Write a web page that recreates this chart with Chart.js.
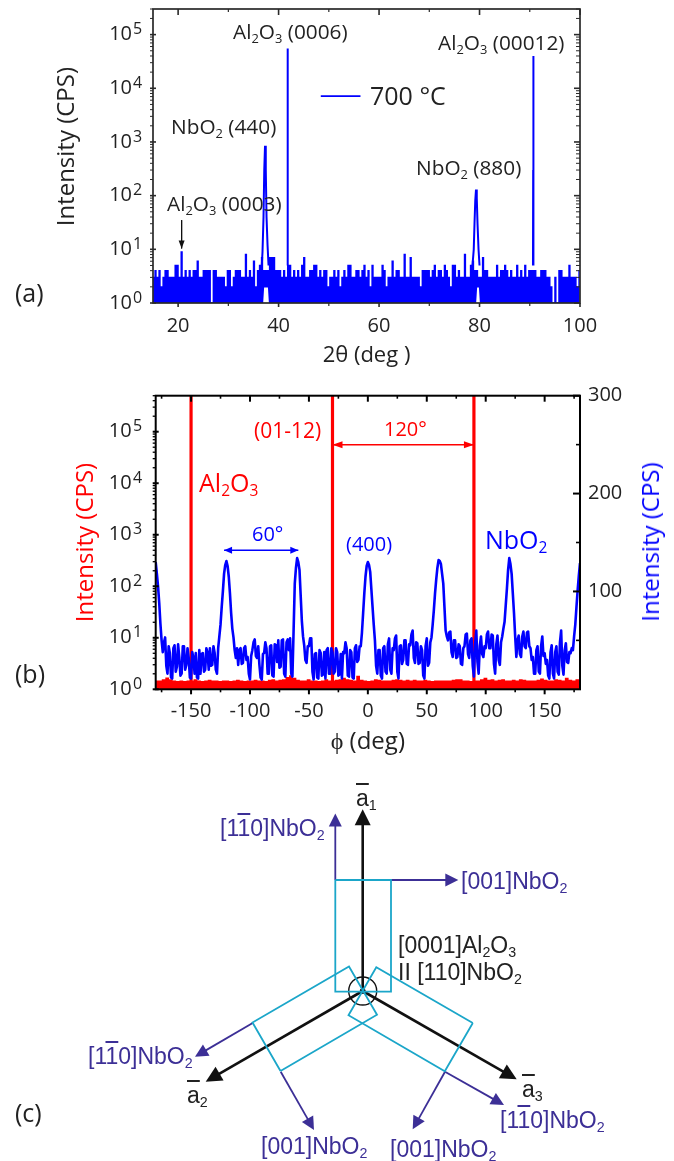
<!DOCTYPE html>
<html><head><meta charset="utf-8">
<script src="https://cdn.jsdelivr.net/npm/chart.js@4/dist/chart.umd.min.js"></script>
<style>
html,body{margin:0;padding:0;background:#fff}
#page{position:relative;width:674px;height:1161px;overflow:hidden}
canvas{position:absolute;left:0}
.t{position:absolute;white-space:nowrap;line-height:0}
.t sub{font-size:.62em;vertical-align:-.28em;line-height:0}
.o{text-decoration:overline}
</style></head><body><div id="page">
<canvas id="ca" width="674" height="370" style="top:0"></canvas>
<canvas id="cb" width="674" height="380" style="top:380px"></canvas>
<canvas id="cc" width="674" height="391" style="top:770px"></canvas>
</div>
<script>
/* ---------- panel (a) : 2-theta scan, counts read every 0.4 deg from 15 deg ---------- */
const xrdCounts = [
 3,4,3,4,2,3,4,4,3,3,3,5,5,3,9,3,4,3,4,3,4,4,6,3,3,4,4,4,4,1,4,4,3,3,3,3,2,4,4,2,3,4,4,4,3,3,8,3,4,3,6,2,4,5,7,4,4,4,7,7,7,4,4,4,3,4,3,5,5,3,4,3,
 4,3,5,7,3,3,4,4,5,5,3,4,3,4,4,2,3,3,4,3,4,2,3,4,3,5,5,3,3,4,4,3,4,5,3,4,2,5,3,3,3,3,5,4,2,3,3,6,3,4,4,3,3,8,3,3,7,3,3,3,3,2,4,4,4,4,3,4,5,3,4,4,3,
 5,4,3,2,5,5,3,4,3,3,8,3,3,5,6,4,4,3,3,7,4,4,3,3,3,3,5,3,4,4,5,4,3,4,3,3,5,3,4,3,5,3,4,4,4,4,3,3,4,4,4,3,3,2,1,3,1,4,4,3,3,3,5,3,3,3,2,4,4,4
];
const xrdRaisedFloor = [55,56,57,161,162];
const peak440Angle = [36.6,36.8,37.0,37.15,37.3,37.45,37.6,37.8,38.0];
const peak440Count = [4,9,40,300,850,300,40,12,5];
const peak0006Angle = [41.74,41.78,41.8,41.82,41.86];
const peak0006Count = [5,300,55000,300,5];
const peak880Angle = [78.6,78.85,79.0,79.15,79.3,79.45,79.6,79.8,80.0];
const peak880Count = [5,10,30,80,130,90,30,10,5];
const peak00012Angle = [90.64,90.68,90.7,90.72,90.76];
const peak00012Count = [5,300,40000,300,5];
const xMajorA = [20,40,60,80,100];
const xMinorA = [30,50,70,90];
const logDecades = [1,10,100,1000,10000,100000];

/* ---------- panel (b) : phi scan ---------- */
const blueCounts = [ /* every 1 deg from -180, read against the right axis */
 130,118,105,88,67,50,38,48,53,24,16,44,37,12,11,42,45,18,23,46,33,14,16,44,44,20,25,42,32,12,
 11,38,32,16,37,12,11,40,16,36,37,18,20,42,37,20,42,24,25,44,37,20,16,42,54,66,84,100,118,127,
 131,126,115,98,78,62,53,40,32,42,25,40,42,26,27,42,44,30,33,16,10,34,40,48,51,34,32,44,25,12,
 10,36,37,48,42,16,16,44,45,14,13,46,45,28,50,22,23,50,51,16,13,48,51,40,52,16,13,60,108,124,
 134,130,122,96,70,54,45,30,27,44,44,52,52,18,10,36,37,12,11,40,37,14,15,38,11,40,42,16,16,42,
 38,16,18,42,38,14,15,36,11,38,37,48,42,14,13,40,38,12,11,42,45,28,30,44,44,58,78,98,115,126,
 130,127,120,102,84,66,50,24,16,40,40,14,11,42,44,18,16,46,52,20,16,42,40,52,55,18,11,44,45,26,
 30,50,50,26,25,46,45,56,60,32,27,48,47,26,27,44,40,14,11,44,52,24,27,48,53,66,81,98,112,124,
 132,131,128,118,108,84,60,54,50,58,59,38,33,50,50,32,33,46,44,26,25,42,44,56,57,36,32,50,52,24,
 13,46,60,28,16,44,54,36,33,44,42,56,59,42,42,56,55,26,16,46,55,30,25,48,54,62,69,86,103,122,
 134,128,118,98,78,54,33,50,55,36,33,54,59,44,42,58,59,44,42,30,33,16,16,40,44,18,16,44,54,34,
 37,26,30,14,11,38,45,16,11,38,44,18,15,48,60,24,15,40,47,28,27,38,37,42,40,54,66,84,101,116,
 129
];
const redCounts = [ /* every 3 deg from -180, read against the left axis */
 1.42,1.42,1.5,1.62,1.5,1.42,1.38,1.42,1.38,1.42,
 1.42,1.5,1.42,1.38,1.42,1.46,1.42,1.42,1.38,1.42,
 1.42,1.38,1.42,1.46,1.42,1.38,1.42,1.42,1.46,1.42,
 1.42,1.38,1.46,1.5,1.42,1.46,1.5,1.66,1.8,1.6,
 1.46,1.42,1.42,1.5,1.42,1.42,1.38,1.42,1.5,1.42,
 1.42,1.46,1.5,1.6,1.5,1.46,1.42,1.75,1.46,1.42,
 1.38,1.42,1.5,1.46,1.42,1.42,1.42,1.46,1.5,1.46,
 1.42,1.46,1.42,1.46,1.42,1.42,1.46,1.42,1.38,1.42,
 1.42,1.42,1.42,1.42,1.46,1.5,1.5,1.42,1.42,1.38,
 1.42,1.42,1.5,1.6,1.46,1.5,1.42,1.46,1.5,1.42,
 1.42,1.46,1.42,1.5,1.46,1.42,1.42,1.42,1.46,1.55,
 1.46,1.42,1.42,1.5,1.46,1.42,1.6,1.46,1.42,1.5,1.5
];
const substratePeakAngles = [-150,-30,90];
const substratePeakCount = 500000;
const xMajorB = [-150,-100,-50,0,50,100,150];
const xMinorB = [-175,-125,-75,-25,25,75,125,175];
const rightMajor = [100,200,300];
const rightMinor = [50,150,250];

/* ---------- panel (c) : epitaxy diagram, in image units ---------- */
const centre = [362.7,991];
const boxTop = [[335.3,880],[391,880],[391,991.7],[335.3,991.7],[335.3,880]];
const boxLeft = [[280.5,1071],[252.5,1022.5],[349,966.5],[377,1014.7],[280.5,1071]];
const boxRight = [[472.8,1023],[444.8,1071.3],[348.5,1015.2],[376.3,967.3],[472.8,1023]];
const purpleArrows = [
 [[335.3,880],[335.3,813.5]],[[391,880],[458.3,880]],
 [[252.7,1023],[195,1056.7]],[[280.7,1071.7],[314,1130]],
 [[445,1071.7],[412.7,1129.3]],[[445,1071.7],[504,1105]]
];
const blackArrows = [[centre,[362.7,809.3]],[centre,[205.7,1081.7]],[centre,[516.7,1079.3]]];

/* ---------- labels ---------- */
const BLUE='#0000ff',RED='#ff0000',INK='#222222',PUR='#3c2f96',CYAN='#1ba6c9';
const OS='"Open Sans"',LS='"Liberation Sans"';
const labels = [
 ['(a)',15,302,25,INK,OS],['(b)',15,683,25,INK,OS],['(c)',15,1122,25,INK,OS],
 ['Al<sub>2</sub>O<sub>3</sub> (0006)',233,39,20.8,INK,OS],
 ['NbO<sub>2</sub> (440)',171,134,20.8,INK,OS],
 ['Al<sub>2</sub>O<sub>3</sub> (0003)',167,211,20.8,INK,OS],
 ['Al<sub>2</sub>O<sub>3</sub> (00012)',438,50,20.8,INK,OS],
 ['NbO<sub>2</sub> (880)',416,175,20.8,INK,OS],
 ['700 °C',370,105,25,INK,OS],
 ['(01-12)',254,438,21,RED,OS],
 ['Al<sub>2</sub>O<sub>3</sub>',199,492,25,RED,OS],
 ['60°',252,542,20,BLUE,OS],
 ['120°',384,437,20,RED,OS],
 ['(400)',346,552,20,BLUE,OS],
 ['NbO<sub>2</sub>',485,549,25,BLUE,OS],
 ['[1<span class="o">1</span>0]NbO<sub>2</sub>',220,836,23,PUR,LS],
 ['[001]NbO<sub>2</sub>',461,889,23,PUR,LS],
 ['[1<span class="o">1</span>0]NbO<sub>2</sub>',88,1064,23,PUR,LS],
 ['[001]NbO<sub>2</sub>',261,1154,23,PUR,LS],
 ['[001]NbO<sub>2</sub>',390,1157,23,PUR,LS],
 ['[1<span class="o">1</span>0]NbO<sub>2</sub>',500,1128,23,PUR,LS],
 ['[0001]Al<sub>2</sub>O<sub>3</sub>',398,953,23,INK,LS],
 ['II [110]NbO<sub>2</sub>',398,980,23,INK,LS],
 ['<span class="o">a</span><sub>1</sub>',356,806,23,INK,LS],
 ['<span class="o">a</span><sub>2</sub>',187,1103,23,INK,LS],
 ['<span class="o">a</span><sub>3</sub>',522,1097,23,INK,LS]
];
const page=document.getElementById('page');
labels.forEach(([h,x,base,size,col,font])=>{
  const s=document.createElement('div');s.className='t';s.innerHTML=h;
  const k=font===OS?0.388:0.3465;
  s.style.cssText=`left:${x}px;top:${base-k*size}px;font:${size}px ${font};line-height:0;color:${col}`;
  page.appendChild(s);
});
const rt=document.createElement('div');rt.className='t';rt.textContent='Intensity (CPS)';
rt.style.cssText=`left:650px;top:542px;font:24px ${OS};line-height:0;color:${BLUE};transform:translate(-50%,0) rotate(-90deg)`;
page.appendChild(rt);

/* ---------- plugins ---------- */
const framePlugin={id:'frame',afterDatasetsDraw(chart,_,o){
  if(!o.width)return;
  const {ctx,chartArea:{left,right,top,bottom},scales}=chart;ctx.save();ctx.strokeStyle=o.color;
  (o.ticks||[]).forEach(t=>{const s=scales[t.scale];ctx.lineWidth=t.w;
    t.values.forEach(v=>{ if(v<s.min||v>s.max)return;
      const p=s.getPixelForValue(v);ctx.beginPath();
      if(t.side==='top'){ctx.moveTo(p,top);ctx.lineTo(p,top+t.len)}
      if(t.side==='bottom'){ctx.moveTo(p,bottom);ctx.lineTo(p,bottom+t.len)}
      if(t.side==='left'){ctx.moveTo(left-t.len,p);ctx.lineTo(left+(t.inner||0),p)}
      if(t.side==='right'){ctx.moveTo(right-t.len,p);ctx.lineTo(right,p)}
      ctx.stroke();});});
  ctx.lineWidth=o.width;ctx.strokeRect(left,top,right-left,bottom-top);
  if(o.supX){ctx.fillStyle=INK;ctx.font=`16px ${OS}`;ctx.textBaseline='middle';ctx.textAlign='left';
    logDecades.forEach(v=>ctx.fillText(String(Math.round(Math.log10(v))),o.supX,scales.y.getPixelForValue(v)-5));}
  ctx.restore();}};
function head(ctx,tip,from,len,half,col){
  const a=Math.atan2(tip.y-from.y,tip.x-from.x),c=Math.cos(a),s=Math.sin(a);
  ctx.fillStyle=col;ctx.beginPath();ctx.moveTo(tip.x,tip.y);
  ctx.lineTo(tip.x-c*len-s*half,tip.y-s*len+c*half);
  ctx.lineTo(tip.x-c*len+s*half,tip.y-s*len-c*half);ctx.closePath();ctx.fill();
}
const arrowPlugin={id:'arrows',afterDatasetsDraw(chart){
  const ctx=chart.ctx;ctx.save();
  chart.data.datasets.forEach(d=>{ if(!d.arrow)return;
    const sx=chart.scales.x,sy=chart.scales[d.yAxisID||'y'];
    const px=p=>({x:sx.getPixelForValue(p.x),y:sy.getPixelForValue(p.y)});
    const n=d.data.length,a=px(d.data[0]),b=px(d.data[n-1]);
    const tip=d.arrowTip?px(d.arrowTip):b;
    head(ctx,tip,a,d.arrow.len,d.arrow.half,d.borderColor);
    if(d.arrow.both)head(ctx,a,b,d.arrow.len,d.arrow.half,d.borderColor);
  });ctx.restore();}};
Chart.register(framePlugin,arrowPlugin);

const pts=(xs,ys)=>xs.map((x,i)=>({x,y:ys[i]}));
const noPad=s=>{s.paddingLeft=s.paddingRight=s.paddingTop=s.paddingBottom=0};
const decadeLabel=v=>logDecades.includes(v)?'10':'';
const minorLog=[];logDecades.forEach(d=>[2,3,4,5,6,7,8,9].forEach(m=>minorLog.push(d*m)));
const base={responsive:false,animation:false,events:[],elements:{point:{radius:0},line:{tension:0}},
  plugins:{legend:{display:false},tooltip:{enabled:false},title:{display:false}}};
const tickFont={family:OS,size:20};

/* ---------- chart (a) ---------- */
const combA=[];xrdCounts.forEach((c,i)=>{const x=15+i*0.4,lo=xrdRaisedFloor.includes(i)?2:1;
  combA.push({x,y:lo},{x,y:Math.max(c,lo)},{x:x+0.2,y:Math.max(c,lo)},{x:x+0.2,y:lo});});
const blueLine=(data,lw)=>({data,borderColor:BLUE,borderWidth:lw,fill:false});
new Chart('ca',{type:'line',data:{datasets:[
  blueLine(combA,1.3),
  blueLine(pts(peak440Angle,peak440Count),2),blueLine(pts(peak0006Angle,peak0006Count),2),
  blueLine(pts(peak880Angle,peak880Count),2),blueLine(pts(peak00012Angle,peak00012Count),2),
  {data:[{x:20.7,y:35},{x:20.7,y:10.4}],borderColor:'#111',borderWidth:1,arrow:{len:8,half:3}},
  {data:[{x:48.4,y:7160},{x:56.3,y:7160}],borderColor:BLUE,borderWidth:1.6}
]},options:{...base,layout:{autoPadding:false,padding:{left:0,right:94,top:9,bottom:0}},
  plugins:{...base.plugins,frame:{color:'#2a2a2a',width:1.7,supX:133,ticks:[
    {scale:'x',side:'top',values:xMajorA,len:6,w:1.6},{scale:'x',side:'top',values:xMinorA,len:3,w:1.2},
    {scale:'x',side:'bottom',values:xMajorA,len:4,w:1.6},{scale:'x',side:'bottom',values:xMinorA,len:3,w:1.2},
    {scale:'y',side:'left',values:logDecades,len:3,inner:3,w:1.6},{scale:'y',side:'left',values:minorLog,len:3,w:1},
    {scale:'y',side:'right',values:logDecades,len:6,w:1.6},{scale:'y',side:'right',values:minorLog,len:4,w:1}]}},
  scales:{
   x:{type:'linear',min:15,max:100,grid:{display:false},border:{display:false},
      afterBuildTicks:s=>{s.ticks=xMajorA.map(value=>({value}))},afterFit:s=>{s.height=67;noPad(s)},
      ticks:{font:tickFont,color:INK,padding:3,maxRotation:0,autoSkip:false},
      title:{display:true,text:'2θ (deg )',font:{family:OS,size:22},color:INK,padding:{top:0,bottom:1}}},
   y:{type:'logarithmic',min:1,max:300000,grid:{display:false},border:{display:false},
      afterBuildTicks:s=>{s.ticks=logDecades.map(value=>({value}))},afterFit:s=>{s.width=153;noPad(s)},
      ticks:{font:tickFont,color:INK,padding:13,autoSkip:false,callback:decadeLabel},
      title:{display:true,text:'\u00a0\u00a0\u00a0Intensity (CPS)',font:{family:OS,size:24},color:INK,padding:{top:52.6,bottom:0}}}
  }}});

/* ---------- chart (b) ---------- */
const combR=[];redCounts.forEach((c,i)=>{const x=-180+i*3;
  combR.push({x,y:1},{x,y:c},{x:x+1.5,y:c},{x:x+1.5,y:1});});
const spikes=[];substratePeakAngles.forEach(x=>spikes.push({x,y:1},{x,y:substratePeakCount},{x,y:null}));
new Chart('cb',{type:'line',data:{datasets:[
  {data:blueCounts.map((y,i)=>({x:-180+i,y})),yAxisID:'yr',borderColor:BLUE,borderWidth:2.6,borderJoinStyle:'round'},
  {data:combR,yAxisID:'y',borderColor:RED,borderWidth:2},
  {data:spikes,yAxisID:'y',borderColor:RED,borderWidth:3.2,spanGaps:false},
  {data:[{x:-122,y:142},{x:-59,y:142}],yAxisID:'yr',borderColor:BLUE,borderWidth:1.5,arrow:{len:8,half:3.5,both:true}},
  {data:[{x:-30,y:250},{x:90,y:250}],yAxisID:'yr',borderColor:RED,borderWidth:1.5,arrow:{len:10,half:3.5,both:true}}
]},options:{...base,layout:{autoPadding:false,padding:{left:0,right:0,top:15.7,bottom:0}},
  plugins:{...base.plugins,frame:{color:'#000',width:2,supX:133,ticks:[
    {scale:'x',side:'top',values:xMajorB,len:6,w:2},{scale:'x',side:'top',values:xMinorB,len:3,w:1.6},
    {scale:'x',side:'bottom',values:xMajorB,len:5,w:2},{scale:'x',side:'bottom',values:xMinorB,len:3,w:1.6},
    {scale:'y',side:'left',values:logDecades,len:3,inner:3,w:2},{scale:'y',side:'left',values:minorLog,len:3,w:1.3},
    {scale:'yr',side:'right',values:rightMajor,len:7,w:2},{scale:'yr',side:'right',values:rightMinor,len:4,w:1.6}]}},
  scales:{
   x:{type:'linear',min:-180,max:180,grid:{display:false},border:{display:false},
      afterBuildTicks:s=>{s.ticks=xMajorB.map(value=>({value}))},afterFit:s=>{s.height=70.7;noPad(s)},
      ticks:{font:tickFont,color:INK,padding:2,maxRotation:0,autoSkip:false},
      title:{display:true,text:'ϕ (deg)',font:{family:OS,size:24},color:INK,padding:{top:0,bottom:3}}},
   y:{type:'logarithmic',position:'left',min:1,max:500000,grid:{display:false},border:{display:false},
      afterBuildTicks:s=>{s.ticks=logDecades.map(value=>({value}))},afterFit:s=>{s.width=155.7;noPad(s)},
      ticks:{font:tickFont,color:INK,padding:16,autoSkip:false,callback:decadeLabel},
      title:{display:true,text:'Intensity (CPS)',font:{family:OS,size:24},color:RED,padding:{top:71.6,bottom:0}}},
   yr:{type:'linear',position:'right',min:0,max:300,grid:{display:false},border:{display:false},
      afterBuildTicks:s=>{s.ticks=rightMajor.map(value=>({value}))},afterFit:s=>{s.width=94;noPad(s)},
      ticks:{font:tickFont,color:INK,padding:0,autoSkip:false}}
  }}});

/* ---------- chart (c) ---------- */
const outline=a=>({data:a.map(([x,y])=>({x,y})),borderColor:CYAN,borderWidth:1.8});
const arrowSet=(seg,col,lw,len,half)=>{const [f,t]=seg,dx=t[0]-f[0],dy=t[1]-f[1],L=Math.hypot(dx,dy);
  return {data:[{x:f[0],y:f[1]},{x:t[0]-dx/L*(len-1),y:t[1]-dy/L*(len-1)}],arrowTip:{x:t[0],y:t[1]},
    borderColor:col,borderWidth:lw,arrow:{len,half}}};
new Chart('cc',{type:'line',data:{datasets:[
  outline(boxTop),outline(boxLeft),outline(boxRight),
  ...purpleArrows.map(s=>arrowSet(s,PUR,1.8,13,6.5)),
  ...blackArrows.map(s=>arrowSet(s,'#111',2.6,16,8)),
  {data:[{x:centre[0],y:centre[1]}],showLine:false,pointRadius:14,pointBorderColor:'#111',pointBorderWidth:1.4,pointBackgroundColor:'rgba(0,0,0,0)'},
  {data:[{x:centre[0],y:centre[1]}],showLine:false,pointRadius:2.5,pointBorderColor:'#111',pointBackgroundColor:'#111'}
]},options:{...base,layout:{autoPadding:false,padding:0},scales:{
  x:{type:'linear',display:false,min:0,max:674},
  y:{type:'linear',display:false,min:770,max:1161,reverse:true}}}});
</script></body></html>
